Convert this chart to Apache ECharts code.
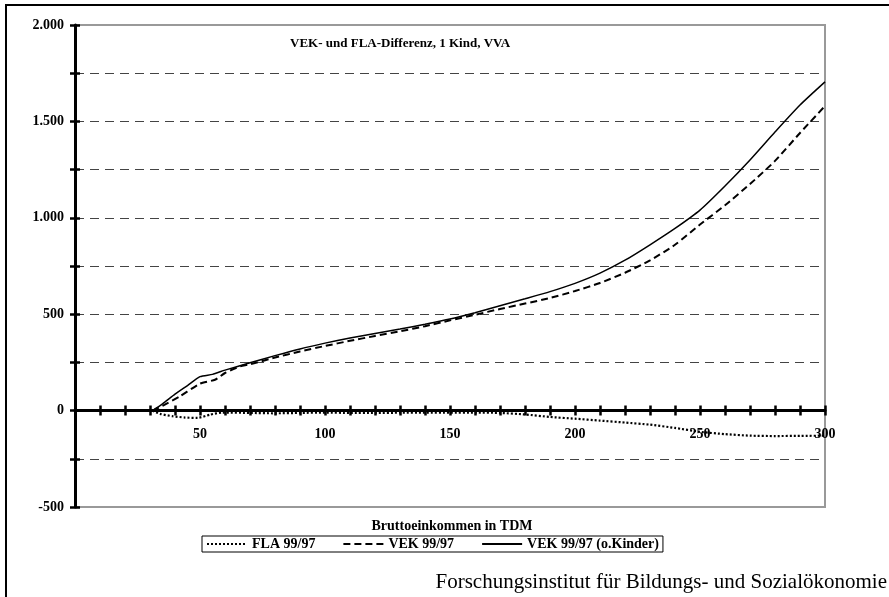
<!DOCTYPE html>
<html>
<head>
<meta charset="utf-8">
<script src="https://cdn.jsdelivr.net/npm/echarts@6/dist/echarts.min.js"></script>
<style>
html,body{margin:0;padding:0;background:#fff;}
#chart{width:889px;height:597px;}
</style>
</head>
<body>
<div id="chart"></div>
<script>
// ---- data ----
const titleText = 'VEK- und FLA-Differenz, 1 Kind, VVA';
const xAxisName = 'Bruttoeinkommen in TDM';
const footerText = 'Forschungsinstitut für Bildungs- und Sozialökonomie';
const seriesNames = ['FLA 99/97', 'VEK 99/97', 'VEK 99/97 (o.Kinder)'];

const flaX =   [31, 34, 39, 44, 49, 54, 59, 70, 80, 90, 100, 110, 120, 130, 140, 150, 160, 170, 180, 190, 200, 210, 220, 230, 240, 250, 260, 270, 280, 290, 300];
const flaY =   [0, -17, -29, -36, -38, -21, -10, -12, -14, -12, -10, -12, -12, -11, -10, -10, -10, -12, -20, -33, -42, -52, -62, -73, -90, -110, -122, -130, -132, -131, -130];

const vekX =   [31, 35, 42, 50, 56, 60, 66, 70, 80, 90, 100, 110, 120, 130, 140, 150, 160, 170, 180, 190, 200, 210, 220, 230, 240, 250, 260, 270, 280, 290, 300];
const vekY =   [0, 25, 74, 140, 160, 195, 229, 240, 275, 307, 335, 362, 387, 411, 438, 468, 497, 527, 555, 584, 620, 662, 715, 779, 860, 965, 1065, 1175, 1295, 1440, 1580];

const vekOkX = [31, 35, 40, 45, 50, 55, 60, 70, 80, 90, 100, 110, 120, 130, 140, 150, 160, 170, 180, 190, 200, 210, 220, 230, 240, 250, 260, 270, 280, 290, 300];
const vekOkY = [0, 35, 85, 130, 176, 188, 210, 248, 285, 320, 350, 377, 400, 423, 448, 475, 508, 544, 580, 617, 660, 713, 780, 860, 945, 1040, 1165, 1300, 1445, 1585, 1705];

const xMin = 0, xMax = 300, xTickStep = 10, xLabelStep = 50;
const yMin = -500, yMax = 2000, yTickStep = 250, yLabelStep = 500;

function pairs(xs, ys) { return xs.map((x, i) => [x, ys[i]]); }
function fmtY(v) {
  if (v % yLabelStep !== 0) return '';
  const s = Math.abs(v).toString().replace(/\B(?=(\d{3})+(?!\d))/g, '.');
  return (v < 0 ? '-' : '') + s;
}
function fmtX(v) {
  if (v === 0 || v % xLabelStep !== 0) return '';
  return String(v);
}

const serif = 'Liberation Serif';
const chart = echarts.init(document.getElementById('chart'), null, {renderer: 'canvas'});

const axisLineStyle = {color: '#000', width: 3};
const tickStyle = {color: '#000', width: 2.5};

chart.setOption({
  backgroundColor: '#fff',
  animation: false,
  textStyle: {fontFamily: serif},
  title: [
    {text: titleText, left: 290, top: 37, textStyle: {fontFamily: serif, fontWeight: 'bold', fontSize: 13, color: '#000'}, padding: 0},
    {text: xAxisName, left: 452, top: 519, textAlign: 'center', textStyle: {fontFamily: serif, fontWeight: 'bold', fontSize: 14, color: '#000'}, padding: 0},
    {text: footerText, right: 2, top: 572, textStyle: {fontFamily: serif, fontWeight: 'normal', fontSize: 21, color: '#000'}, padding: 0}
  ],
  graphic: [
    {type: 'rect', shape: {x: 6, y: 5, width: 1000, height: 1000}, style: {fill: 'none', stroke: '#000', lineWidth: 2}, silent: true, z: 100}
  ],
  legend: {
    left: 202, top: 536,
    padding: [1, 4, 1, 4],
    borderColor: '#000', borderWidth: 1,
    itemWidth: 40, itemHeight: 12, itemGap: 27,
    itemStyle: {opacity: 0},
    textStyle: {fontFamily: serif, fontWeight: 'bold', fontSize: 14, color: '#000'},
    data: seriesNames
  },
  grid: {
    left: 75, top: 25, right: 64, bottom: 90,
    show: true, borderColor: '#999', borderWidth: 2, backgroundColor: '#fff'
  },
  xAxis: [
    {
      type: 'value', min: xMin, max: xMax, interval: xTickStep, position: 'bottom',
      axisLine: {onZero: true, lineStyle: axisLineStyle},
      axisTick: {show: true, inside: false, length: 5, lineStyle: tickStyle},
      axisLabel: {formatter: fmtX, fontFamily: serif, fontWeight: 'bold', fontSize: 14, color: '#000', margin: -80},
      splitLine: {show: false}
    },
    {
      type: 'value', min: xMin, max: xMax, interval: xTickStep, position: 'top',
      axisLine: {show: false, onZero: true},
      axisTick: {show: true, inside: false, length: 5, lineStyle: tickStyle},
      axisLabel: {show: false},
      splitLine: {show: false}
    }
  ],
  yAxis: [
    {
      type: 'value', min: yMin, max: yMax, interval: yTickStep, position: 'left',
      axisLine: {show: true, onZero: false, lineStyle: axisLineStyle},
      axisTick: {show: true, inside: false, length: 5, lineStyle: tickStyle},
      axisLabel: {formatter: fmtY, fontFamily: serif, fontWeight: 'bold', fontSize: 14, color: '#000', margin: 11},
      splitLine: {show: true, showMinLine: false, showMaxLine: false, lineStyle: {color: '#444', width: 1, type: [9, 6]}}
    },
    {
      type: 'value', min: yMin, max: yMax, interval: yTickStep, position: 'left', offset: 0,
      axisLine: {show: false, onZero: false},
      axisTick: {show: true, inside: true, length: 5, lineStyle: tickStyle},
      axisLabel: {show: false},
      splitLine: {show: false}
    }
  ],
  series: [
    {
      name: seriesNames[0], type: 'line', data: pairs(flaX, flaY), symbol: 'none', smooth: 0.2,
      lineStyle: {color: '#000', width: 2.2, type: [2, 2]}, itemStyle: {color: '#000'}, z: 5
    },
    {
      name: seriesNames[1], type: 'line', data: pairs(vekX, vekY), symbol: 'none', smooth: 0.2,
      lineStyle: {color: '#000', width: 2, type: [7, 4]}, itemStyle: {color: '#000'}, z: 5
    },
    {
      name: seriesNames[2], type: 'line', data: pairs(vekOkX, vekOkY), symbol: 'none', smooth: 0.2,
      lineStyle: {color: '#000', width: 1.5, type: 'solid'}, itemStyle: {color: '#000'}, z: 5
    }
  ]
});
</script>
</body>
</html>
